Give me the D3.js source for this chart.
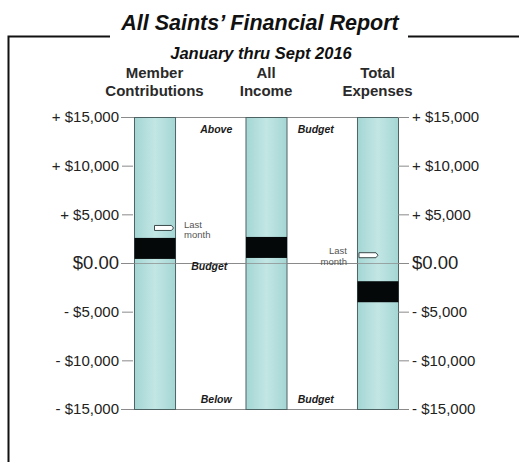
<!DOCTYPE html>
<html><head><meta charset="utf-8">
<script src="https://cdn.jsdelivr.net/npm/d3@7"></script>
<style>
html,body{margin:0;padding:0;background:#fff;}
svg{display:block;font-family:"Liberation Sans",Arial,sans-serif;}
</style></head>
<body>
<svg id="chart" width="519" height="462"></svg>
<script>
const categories = ["Member Contributions", "All Income", "Total Expenses"];
const headerLines = [["Member", "Contributions"], ["All", "Income"], ["Total", "Expenses"]];
const currentValues = [1550, 1650, -2900];
const lastMonthValues = [3600, null, 800];
const tickValues = [15000, 10000, 5000, 0, -5000, -10000, -15000];
const tickLabels = ["+ $15,000", "+ $10,000", "+ $5,000", "$0.00", "- $5,000", "- $10,000", "- $15,000"];

const svg = d3.select("#chart");
const y = d3.scaleLinear().domain([-15000, 15000]).range([409, 117]);
const x = d3.scaleBand().domain(categories).range([134, 398]).paddingInner(0.632).paddingOuter(0);
const bw = x.bandwidth();

// gradient
const defs = svg.append("defs");
const g = defs.append("linearGradient").attr("id", "teal").attr("x1", "0").attr("x2", "1").attr("y1", "0").attr("y2", "0");
g.append("stop").attr("offset", "0").attr("stop-color", "#a4d6d4");
g.append("stop").attr("offset", "0.5").attr("stop-color", "#c2e6e4");
g.append("stop").attr("offset", "1").attr("stop-color", "#a4d6d4");

// frame
svg.append("path").attr("d", "M8.5,462 V36.5 H110").attr("fill", "none").attr("stroke", "#111").attr("stroke-width", 2);
svg.append("path").attr("d", "M408,36.5 H519").attr("fill", "none").attr("stroke", "#111").attr("stroke-width", 2);

// titles
svg.append("text").attr("x", 260).attr("y", 30).attr("text-anchor", "middle")
  .attr("font-size", 21.5).attr("font-weight", "bold").attr("font-style", "italic").attr("fill", "#111")
  .text("All Saints\u2019 Financial Report");
svg.append("text").attr("x", 261).attr("y", 59).attr("text-anchor", "middle")
  .attr("font-size", 16.5).attr("font-weight", "bold").attr("font-style", "italic").attr("fill", "#111")
  .text("January thru Sept 2016");

// headers
categories.forEach((c, i) => {
  const cx = x(c) + bw / 2;
  headerLines[i].forEach((line, j) => {
    svg.append("text").attr("x", cx).attr("y", 78 + j * 18).attr("text-anchor", "middle")
      .attr("font-size", 15).attr("font-weight", "bold").attr("fill", "#2a2a2a").text(line);
  });
});

// horizontal reference lines
[15000, 0, -15000].forEach(v => {
  svg.append("line").attr("x1", 121).attr("x2", 409).attr("y1", y(v) + 0.5).attr("y2", y(v) + 0.5)
    .attr("stroke", "#8a8a8a").attr("stroke-width", 1.2);
});

// bars
svg.selectAll("rect.col").data(categories).join("rect").attr("class", "col")
  .attr("x", d => x(d) + 0.5).attr("y", y(15000) + 0.5).attr("width", bw).attr("height", y(-15000) - y(15000))
  .attr("fill", "url(#teal)").attr("stroke", "#4e6363").attr("stroke-width", 1);

// zero line over bars (faint)
svg.append("line").attr("x1", 121).attr("x2", 409).attr("y1", y(0) + 0.5).attr("y2", y(0) + 0.5)
  .attr("stroke", "#8a8a8a").attr("stroke-width", 1).attr("opacity", 0.7);

// current value bands
svg.selectAll("rect.cur").data(categories).join("rect").attr("class", "cur")
  .attr("x", d => x(d) + 0.5).attr("width", bw)
  .attr("y", (d, i) => y(currentValues[i]) - 10).attr("height", 21)
  .attr("fill", "#050808");

// last month markers
categories.forEach((c, i) => {
  const v = lastMonthValues[i];
  if (v == null) return;
  const yy = y(v);
  const x0 = i === 0 ? x(c) + bw / 2 : x(c) + 2;
  svg.append("path")
    .attr("d", `M${x0},${yy - 2.5} H${x0 + 17} L${x0 + 19},${yy} L${x0 + 17},${yy + 2.5} H${x0} Z`)
    .attr("fill", "#fff").attr("stroke", "#3b4a4a").attr("stroke-width", 1);
  const right = i !== 0;
  const tx = right ? x(c) - 10 : x(c) + bw + 9;
  const ty = right ? yy - 1 : yy;
  ["Last", "month"].forEach((t, j) => {
    svg.append("text").attr("x", tx).attr("y", ty + j * 10.5)
      .attr("text-anchor", right ? "end" : "start").attr("font-size", 9.5).attr("fill", "#555").text(t);
  });
});

// gap labels
const gap1 = (x(categories[0]) + bw + x(categories[1])) / 2;
const gap2 = (x(categories[1]) + bw + x(categories[2])) / 2;
const gapLabels = [
  {t: "Above", cx: gap1 + 6, v: 15000, dy: 16},
  {t: "Budget", cx: gap2 - 6, v: 15000, dy: 16},
  {t: "Budget", cx: gap1 - 1, v: 0, dy: 7},
  {t: "Below", cx: gap1 + 6, v: -15000, dy: -6},
  {t: "Budget", cx: gap2 - 6, v: -15000, dy: -6}
];
gapLabels.forEach(d => {
  svg.append("text").attr("x", d.cx).attr("y", y(d.v) + d.dy).attr("text-anchor", "middle")
    .attr("font-size", 10.5).attr("font-weight", "bold").attr("font-style", "italic").attr("fill", "#1a1a1a").text(d.t);
});

// axes
const leftAxis = d3.axisLeft(y).tickValues(tickValues).tickFormat((d, i) => tickLabels[i]).tickSize(11).tickPadding(3);
const rightAxis = d3.axisRight(y).tickValues(tickValues).tickFormat((d, i) => tickLabels[i]).tickSize(11).tickPadding(3);
const la = svg.append("g").attr("transform", "translate(133,0)").call(leftAxis);
const ra = svg.append("g").attr("transform", "translate(398,0)").call(rightAxis);
[la, ra].forEach(a => {
  a.select(".domain").remove();
  a.selectAll(".tick line").attr("stroke", "#8a8a8a").attr("stroke-width", 1);
  a.selectAll(".tick text").attr("fill", "#222").attr("font-size", d => d === 0 ? 18.5 : 15)
    .attr("font-family", "Liberation Sans, Arial, sans-serif");
});
</script>
</body></html>
